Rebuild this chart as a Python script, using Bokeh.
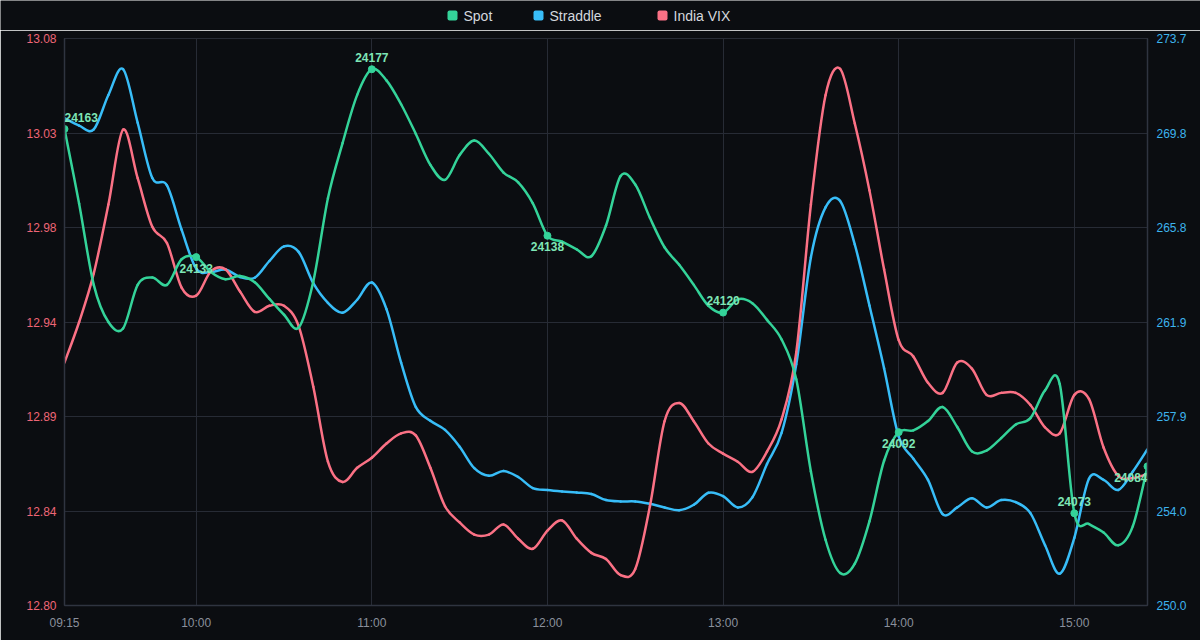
from bokeh.plotting import figure
from bokeh.layouts import column
from bokeh.core.properties import value
from bokeh.models import (Range1d, LinearAxis, FixedTicker, CustomJSTickFormatter,
                          ColumnDataSource, LabelSet)
from bokeh.embed import file_html
from bokeh.resources import INLINE

# ---------------- data ----------------
times = [
    "09:15", "09:20", "09:25", "09:30", "09:35", "09:40", "09:45", "09:50", "09:55", "10:00",
    "10:05", "10:10", "10:15", "10:20", "10:25", "10:30", "10:35", "10:40", "10:45", "10:50",
    "10:55", "11:00", "11:05", "11:10", "11:15", "11:20", "11:25", "11:30", "11:35", "11:40",
    "11:45", "11:50", "11:55", "12:00", "12:05", "12:10", "12:15", "12:20", "12:25", "12:30",
    "12:35", "12:40", "12:45", "12:50", "12:55", "13:00", "13:05", "13:10", "13:15", "13:20",
    "13:25", "13:30", "13:35", "13:40", "13:45", "13:50", "13:55", "14:00", "14:05", "14:10",
    "14:15", "14:20", "14:25", "14:30", "14:35", "14:40", "14:45", "14:50", "14:55", "15:00",
    "15:05", "15:10", "15:15", "15:20", "15:25",
]

spot = [
    24163, 24145.5, 24126.5, 24117.8, 24116.3, 24126.5, 24128.2, 24126.5, 24132.5, 24133,
    24129.5, 24127.8, 24128.6, 24127.1, 24123.2, 24119.5, 24116.5, 24127.3, 24146.8, 24159.7,
    24171.0, 24177, 24174.4, 24168.8, 24161.9, 24154.6, 24151.1, 24156.9, 24160.3, 24157.2,
    24152.8, 24150.5, 24145.6, 24138, 24136.6, 24134.8, 24133.2, 24140.4, 24152.0, 24150.0,
    24142.2, 24135.3, 24131.2, 24126.5, 24121.6, 24120, 24123.1, 24122.2, 24118.3, 24113.7,
    24104.4, 24082.8, 24066.8, 24059.0, 24061.2, 24071.1, 24085.3, 24092, 24092.4, 24094.6,
    24097.9, 24093.2, 24087.5, 24087.7, 24090.6, 24093.8, 24095.3, 24101.8, 24103.3, 24073,
    24070.5, 24068.5, 24065.5, 24070, 24084,
]

straddle = [
    270.37, 270.06, 269.90, 271.34, 272.42, 270.18, 267.87, 267.56, 265.71, 264.08,
    263.94, 264.04, 263.73, 263.70, 264.40, 265.01, 264.78, 263.47, 262.65, 262.24,
    262.78, 263.50, 262.39, 260.15, 258.30, 257.72, 257.34, 256.64, 255.74, 255.42,
    255.62, 255.37, 254.91, 254.83, 254.77, 254.72, 254.66, 254.41, 254.35, 254.35,
    254.25, 254.10, 253.98, 254.21, 254.71, 254.57, 254.10, 254.52, 255.91, 257.22,
    260.08, 264.55, 266.64, 266.91, 265.09, 262.54, 259.92, 257.07, 256.14, 255.25,
    253.82, 254.10, 254.48, 254.10, 254.41, 254.32, 253.86, 252.52, 251.33, 252.83,
    255.30, 255.25, 254.83, 255.60, 256.53,
]

india_vix = [
    12.920, 12.940, 12.964, 12.998, 13.035, 13.011, 12.987, 12.979, 12.957, 12.953,
    12.965, 12.966, 12.955, 12.945, 12.948, 12.948, 12.938, 12.908, 12.871, 12.861,
    12.868, 12.873, 12.880, 12.885, 12.884, 12.868, 12.849, 12.841, 12.835, 12.835,
    12.840, 12.833, 12.828, 12.837, 12.842, 12.833, 12.826, 12.823, 12.815, 12.818,
    12.849, 12.891, 12.900, 12.891, 12.880, 12.875, 12.871, 12.866, 12.876, 12.892,
    12.925, 12.998, 13.052, 13.065, 13.038, 13.005, 12.966, 12.931, 12.923, 12.910,
    12.905, 12.920, 12.917, 12.904, 12.905, 12.905, 12.899, 12.888, 12.885, 12.904,
    12.902, 12.878, 12.864, 12.863, 12.865,
]

spot_label_times = ["09:15", "10:00", "11:00", "12:00", "13:00", "14:00", "15:00", "15:25"]

series_names = ["Spot", "Straddle", "India VIX"]

vix_tick_labels = ["12.80", "12.84", "12.89", "12.94", "12.98", "13.03", "13.08"]
straddle_tick_labels = ["250.0", "254.0", "257.9", "261.9", "265.8", "269.8", "273.7"]
time_tick_labels = ["09:15", "10:00", "11:00", "12:00", "13:00", "14:00", "15:00"]

# ---------------- styling ----------------
BG = "#0b0d11"
GRID = "#272b35"
AXIS = "#2f3440"
GREEN = "#34d399"
BLUE = "#38bdf8"
RED = "#fb7185"
LABEL_GREEN = "#7ee6b6"
FONT = "Liberation Sans"

VIX_LO, VIX_HI = 12.80, 13.08
STR_LO, STR_HI = 250.0, 273.7
SPOT_LO, SPOT_HI = 24051.4, 24184.2

HEAD_H = 30


def to_minutes(hhmm):
    h, m = hhmm.split(":")
    return int(h) * 60 + int(m)


xs = [to_minutes(t) for t in times]


def bezier_source(x, y):
    """Catmull-Rom style cubic segments through every sample."""
    n = len(x)
    d = dict(x0=[], y0=[], x1=[], y1=[], cx0=[], cy0=[], cx1=[], cy1=[])
    for i in range(n - 1):
        a = max(i - 1, 0)
        b = min(i + 2, n - 1)
        d["x0"].append(x[i]); d["y0"].append(y[i])
        d["x1"].append(x[i + 1]); d["y1"].append(y[i + 1])
        d["cx0"].append(x[i] + (x[i + 1] - x[a]) / 6.0)
        d["cy0"].append(y[i] + (y[i + 1] - y[a]) / 6.0)
        d["cx1"].append(x[i + 1] - (x[b] - x[i]) / 6.0)
        d["cy1"].append(y[i + 1] - (y[b] - y[i]) / 6.0)
    return ColumnDataSource(d)


# ---------------- legend strip (1 data unit = 1 px) ----------------
head = figure(
    width=1200, height=HEAD_H, x_range=Range1d(0, 1200), y_range=Range1d(0, HEAD_H),
    output_backend="svg", toolbar_location=None,
    background_fill_color=BG, border_fill_color=BG, outline_line_color=None,
    min_border=0, frame_align=False,
)
head.xaxis.visible = False
head.yaxis.visible = False
head.xgrid.visible = False
head.ygrid.visible = False
swatch_left = [447, 533, 657]
head.quad(left=swatch_left, right=[v + 10 for v in swatch_left],
          bottom=[10] * 3, top=[20] * 3,
          fill_color=[GREEN, BLUE, RED], line_color=None, border_radius=2)
head.text(x=[v + 16 for v in swatch_left], y=[15] * 3, text=series_names,
          text_font=value(FONT), text_font_size="14px", text_color="#d4d7dd",
          text_baseline="middle", text_align="left")

# ---------------- main chart ----------------
p = figure(
    width=1200, height=640 - HEAD_H,
    x_range=Range1d(xs[0], xs[-1]),
    y_range=Range1d(VIX_LO, VIX_HI),
    output_backend="svg", toolbar_location=None,
    background_fill_color=BG, border_fill_color=BG,
    outline_line_color=GRID, outline_line_width=1,
    min_border_left=64, min_border_right=53, min_border_top=38 - HEAD_H,
    min_border_bottom=35, frame_align=False,
)
p.extra_y_ranges = {
    "straddle": Range1d(STR_LO, STR_HI),
    "spot": Range1d(SPOT_LO, SPOT_HI),
}

vix_ticks = [VIX_LO + k * (VIX_HI - VIX_LO) / 6 for k in range(7)]
str_ticks = [STR_LO + k * (STR_HI - STR_LO) / 6 for k in range(7)]
time_ticks = [to_minutes(t) for t in time_tick_labels]


def index_formatter(labels, lo, hi):
    return CustomJSTickFormatter(
        args=dict(labels=labels, lo=lo, step=(hi - lo) / 6),
        code="const i = Math.round((tick - lo) / step); return labels[i];",
    )


yl = p.yaxis[0]
yl.ticker = FixedTicker(ticks=vix_ticks)
yl.formatter = index_formatter(vix_tick_labels, VIX_LO, VIX_HI)
yl.major_label_text_color = "#ee6677"

yr = LinearAxis(y_range_name="straddle",
                ticker=FixedTicker(ticks=str_ticks),
                formatter=index_formatter(straddle_tick_labels, STR_LO, STR_HI))
yr.major_label_text_color = "#3db4ee"
p.add_layout(yr, "right")

xa = p.xaxis[0]
xa.ticker = FixedTicker(ticks=time_ticks)
xa.formatter = CustomJSTickFormatter(
    code="const h = Math.floor(tick / 60), m = Math.round(tick % 60);"
         "return String(h).padStart(2, '0') + ':' + String(m).padStart(2, '0');")
xa.major_label_text_color = "#8a909c"

for ax in (yl, yr, xa):
    ax.axis_line_color = AXIS
    ax.axis_line_width = 1.5
    ax.major_tick_line_color = None
    ax.minor_tick_line_color = None
    ax.major_tick_out = 0
    ax.major_tick_in = 0
    ax.major_label_text_font = FONT
    ax.major_label_text_font_size = "12px"
yl.major_label_standoff = 8
yr.major_label_standoff = 9
xa.major_label_standoff = 10

p.ygrid.ticker = FixedTicker(ticks=vix_ticks)
p.xgrid.ticker = FixedTicker(ticks=time_ticks)
p.grid.grid_line_color = GRID
p.grid.grid_line_width = 1

bez = dict(x0="x0", y0="y0", x1="x1", y1="y1", cx0="cx0", cy0="cy0", cx1="cx1", cy1="cy1",
           line_width=2.5, line_cap="round")
p.bezier(source=bezier_source(xs, straddle), y_range_name="straddle", line_color=BLUE, **bez)
p.bezier(source=bezier_source(xs, india_vix), line_color=RED, **bez)
p.bezier(source=bezier_source(xs, spot), y_range_name="spot", line_color=GREEN, **bez)

# labelled spot points: labels alternate above / below the point
idx = [times.index(t) for t in spot_label_times]
last = len(idx) - 1
lab = ColumnDataSource(dict(
    x=[xs[i] for i in idx],
    y=[spot[i] for i in idx],
    text=[str(int(round(spot[i]))) for i in idx],
    dy=[12 if k % 2 == 0 else -11 for k in range(len(idx))],
    align=["left" if k == 0 else ("right" if k == last else "center") for k in range(len(idx))],
))
p.scatter("x", "y", source=lab, y_range_name="spot", size=7,
          fill_color=GREEN, line_color=GREEN)
p.add_layout(LabelSet(x="x", y="y", text="text", source=lab, y_range_name="spot",
                      y_offset="dy", text_align="align", text_baseline="middle",
                      text_font=value(FONT), text_font_size="12px",
                      text_font_style="bold", text_color=LABEL_GREEN))

layout = column(head, p, spacing=0)
open("out.html", "w").write(file_html(layout, INLINE))
